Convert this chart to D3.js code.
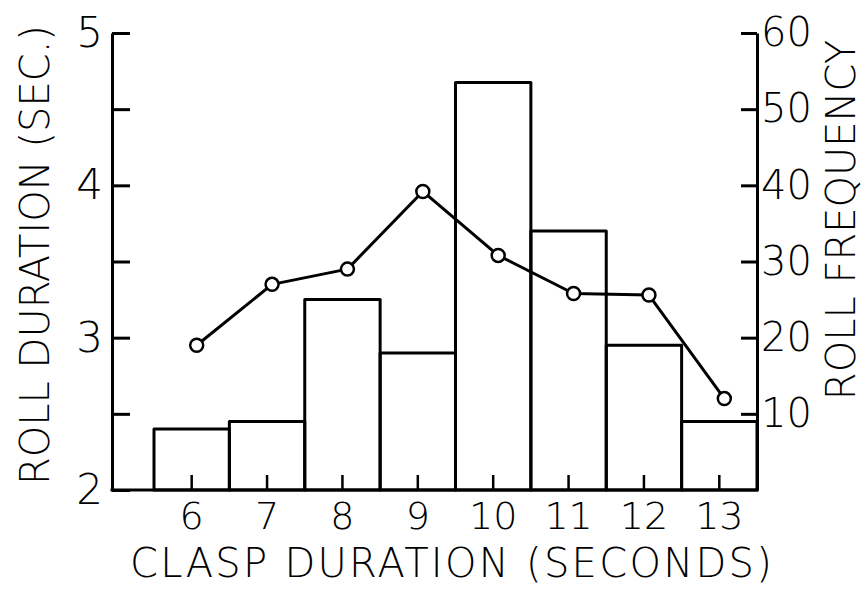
<!DOCTYPE html>
<html>
<head>
<meta charset="utf-8">
<script src="https://cdn.jsdelivr.net/npm/d3@7"></script>
<style>
  html, body { margin: 0; padding: 0; background: #fff; }
  svg { display: block; }
  text { font-family: "DejaVu Sans", "Liberation Sans", sans-serif; font-weight: 200; fill: #000; }
</style>
</head>
<body>
<svg id="chart" width="868" height="589"></svg>
<script>
// ---- data ----
const categories = ["6", "7", "8", "9", "10", "11", "12", "13"];
const rollFrequency = [8, 9, 25, 18, 53.5, 34, 19, 9];          // bars, right axis
const rollDuration = [2.95, 3.35, 3.45, 3.96, 3.54, 3.29, 3.28, 2.6]; // line, left axis
const leftTickValues = [2, 2.5, 3, 3.5, 4, 4.5, 5];
const rightTickValues = [10, 20, 30, 40, 50, 60];
const xTitle = "CLASP DURATION (SECONDS)";
const leftTitle = "ROLL DURATION (SEC.)";
const rightTitle = "ROLL FREQUENCY";

// ---- layout ----
const W = 868, H = 589;
const axisLeftX = 112, axisRightX = 757;
const plotTop = 33, plotBottom = 490;
const barsLeft = 154;

const svg = d3.select("#chart");
svg.append("rect").attr("width", W).attr("height", H).attr("fill", "#fff");

const x = d3.scaleBand().domain(categories).range([barsLeft, axisRightX]).padding(0);
const yL = d3.scaleLinear().domain([2, 5]).range([plotBottom, plotTop]);
const yR = d3.scaleLinear().domain([0, 60]).range([plotBottom, plotTop]);

const stroke = 3;

// bars
svg.append("g").selectAll("rect")
  .data(categories)
  .join("rect")
  .attr("x", d => x(d))
  .attr("width", x.bandwidth())
  .attr("y", (d, i) => yR(rollFrequency[i]))
  .attr("height", (d, i) => yR(0) - yR(rollFrequency[i]))
  .attr("fill", "none")
  .attr("stroke", "#000")
  .attr("stroke-width", stroke)
  .attr("stroke-linejoin", "round");

// baseline
svg.append("line")
  .attr("x1", axisLeftX).attr("x2", axisRightX)
  .attr("y1", yL(2)).attr("y2", yL(2))
  .attr("stroke", "#000").attr("stroke-width", stroke).attr("stroke-linecap", "square");

// bottom axis (ticks inward, labels below)
const gx = svg.append("g").attr("transform", `translate(0,${plotBottom})`)
  .call(d3.axisBottom(x).tickSizeInner(-15).tickSizeOuter(0).tickPadding(12));
gx.select(".domain").remove();
gx.selectAll(".tick line").attr("stroke", "#000").attr("stroke-width", 2.5);
gx.selectAll(".tick text").attr("font-size", 38).attr("dy", "0.71em");

// left axis
const gl = svg.append("g").attr("transform", `translate(${axisLeftX},0)`)
  .call(d3.axisLeft(yL).tickValues(leftTickValues).tickSizeInner(-18).tickSizeOuter(0)
    .tickPadding(9).tickFormat(d => Number.isInteger(d) ? d3.format("d")(d) : ""));
gl.select(".domain").attr("stroke", "#000").attr("stroke-width", stroke);
gl.selectAll(".tick line").attr("stroke", "#000").attr("stroke-width", stroke);
gl.selectAll(".tick text").attr("font-size", 42);

// right axis
const gr = svg.append("g").attr("transform", `translate(${axisRightX},0)`)
  .call(d3.axisRight(yR).tickValues(rightTickValues).tickSizeInner(-16).tickSizeOuter(0)
    .tickPadding(4).tickFormat(d3.format("d")));
gr.select(".domain").attr("stroke", "#000").attr("stroke-width", stroke);
gr.selectAll(".tick line").attr("stroke", "#000").attr("stroke-width", stroke);
gr.selectAll(".tick text").attr("font-size", 40);

// line with circles
const offset = x.bandwidth() / 2 + 5;
const pts = categories.map((c, i) => [x(c) + offset, yL(rollDuration[i])]);
svg.append("path")
  .attr("d", d3.line()(pts))
  .attr("fill", "none").attr("stroke", "#000").attr("stroke-width", 3)
  .attr("stroke-linejoin", "round");
svg.append("g").selectAll("circle")
  .data(pts).join("circle")
  .attr("cx", d => d[0]).attr("cy", d => d[1]).attr("r", 6.5)
  .attr("fill", "#fff").attr("stroke", "#000").attr("stroke-width", 2.5);

// titles
svg.append("text")
  .attr("x", 452).attr("y", 577)
  .attr("text-anchor", "middle").attr("font-size", 40)
  .attr("letter-spacing", 2.3)
  .text(xTitle);

svg.append("text")
  .attr("transform", `translate(49,255) rotate(-90)`)
  .attr("text-anchor", "middle").attr("font-size", 40)
  .text(leftTitle);

svg.append("text")
  .attr("transform", `translate(855,220) rotate(-90)`)
  .attr("text-anchor", "middle").attr("font-size", 40)
  .text(rightTitle);
</script>
</body>
</html>
